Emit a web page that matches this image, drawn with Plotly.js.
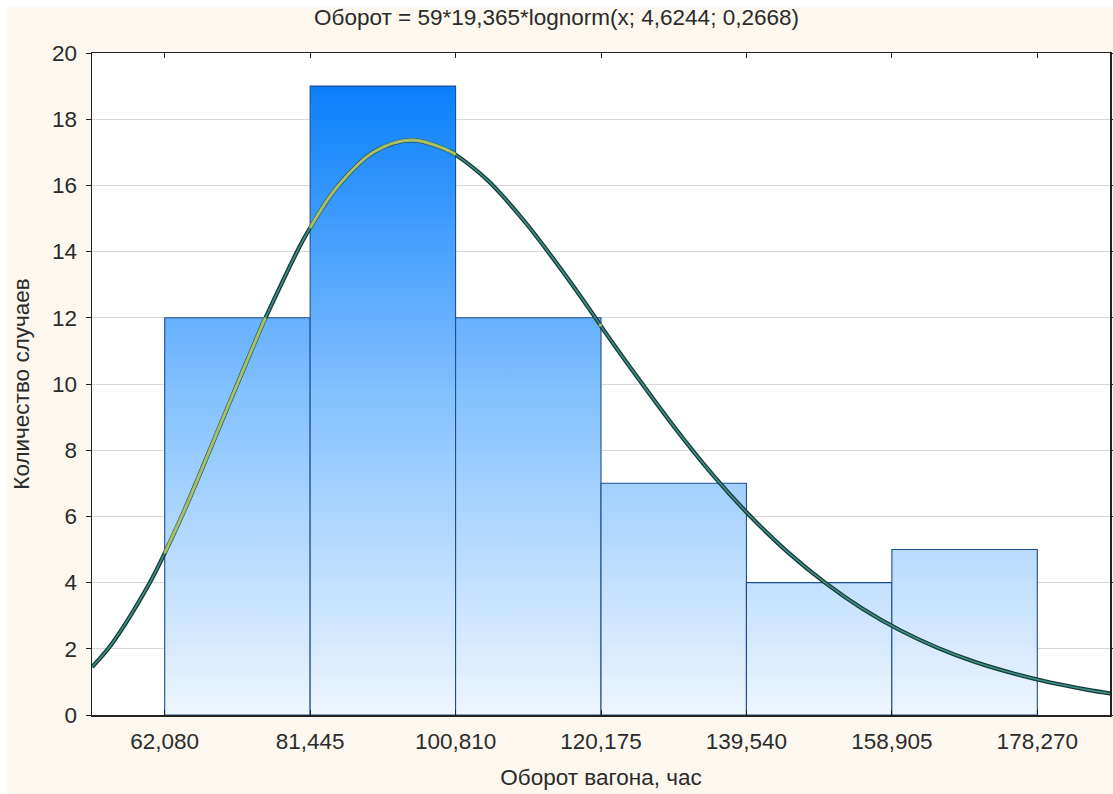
<!DOCTYPE html>
<html>
<head>
<meta charset="utf-8">
<script src="https://cdn.plot.ly/plotly-3.0.1.min.js"></script>
<style>
html,body{margin:0;padding:0;background:#ffffff;}
#bg{position:absolute;left:7px;top:7px;width:1106px;height:787px;background:#fcf8ef;}
#chart{position:absolute;left:0;top:0;width:1113px;height:794px;}
</style>
</head>
<body>
<div id="bg"></div>
<div id="chart"></div>
<script>
// Histogram bins (edges) and counts
const binEdges = [62.080, 81.445, 100.810, 120.175, 139.540, 158.905, 178.270];
const binLabels = ["62,080", "81,445", "100,810", "120,175", "139,540", "158,905", "178,270"];
const counts = [12, 19, 12, 7, 4, 5];

// Fitted lognormal curve
const curveX = [52.4, 55, 60, 62.08, 65, 70, 75, 75.5, 80, 81.445, 85, 90, 95, 100, 100.81, 105, 110, 115, 120, 120.175, 125, 130, 135, 140, 145, 150, 155, 160, 165, 170, 175, 180, 185, 188];
const curveY = [1.45, 2.14, 3.96, 4.89, 6.34, 9.05, 11.75, 12.0, 14.13, 14.72, 15.94, 17.02, 17.37, 17.04, 16.93, 16.17, 14.91, 13.42, 11.81, 11.75, 10.21, 8.68, 7.27, 6.02, 4.93, 4.00, 3.21, 2.56, 2.03, 1.60, 1.26, 0.98, 0.76, 0.65];

const yTicks = [0, 2, 4, 6, 8, 10, 12, 14, 16, 18, 20];

const titleText = "Оборот = 59*19,365*lognorm(x; 4,6244; 0,2668)";
const xTitle = "Оборот вагона, час";
const yTitle = "Количество случаев";

const FONT = "Liberation Sans, Arial, sans-serif";
const FS = 22.5;
const TXT = '#2b2b2b';
const maxCount = Math.max(...counts);
const halfBin = (binEdges[1] - binEdges[0]) / 2;

const traces = [];
for (let i = 0; i < counts.length; i++) {
  const x0 = binEdges[i], x1 = binEdges[i + 1], c = counts[i];
  traces.push({
    type: 'scatter', mode: 'lines',
    x: [x0, x0, x1, x1, x0],
    y: [0, c, c, 0, 0],
    fill: 'toself',
    fillgradient: {type: 'vertical', start: 0, stop: maxCount,
      colorscale: [[0, '#eef6ff'], [0.5, '#86c2ff'], [1, '#0a7ffb']]},
    line: {color: '#1d4f8e', width: 1.1},
    hoverinfo: 'skip', showlegend: false
  });
}

// Curve: dark outer line + teal core
traces.push({type: 'scatter', mode: 'lines', x: curveX, y: curveY,
  line: {color: '#153b39', width: 4.2, shape: 'spline'}, hoverinfo: 'skip', showlegend: false});
traces.push({type: 'scatter', mode: 'lines', x: curveX, y: curveY,
  line: {color: '#3f8f86', width: 1.6, shape: 'spline'}, hoverinfo: 'skip', showlegend: false});

// Part of curve over the dark blue bars appears yellow-green
const overY = curveY.map((v, k) => {
  const xv = curveX[k];
  for (let i = 0; i < counts.length; i++) {
    if (xv >= binEdges[i] - 1e-9 && xv <= binEdges[i + 1] + 1e-9 && v <= counts[i] + 0.05 && counts[i] >= 10) return v;
  }
  return null;
});
traces.push({type: 'scatter', mode: 'lines', x: curveX, y: overY, connectgaps: false,
  line: {color: '#86b873', width: 3.4, shape: 'spline'}, hoverinfo: 'skip', showlegend: false});
traces.push({type: 'scatter', mode: 'lines', x: curveX, y: overY, connectgaps: false,
  line: {color: '#c2bf5c', width: 1.3, shape: 'spline'}, hoverinfo: 'skip', showlegend: false});

const layout = {
  width: 1113, height: 794,
  paper_bgcolor: 'rgba(0,0,0,0)', plot_bgcolor: '#ffffff',
  margin: {l: 92, r: 3, t: 53, b: 79},
  font: {family: FONT, size: FS, color: TXT},
  separators: ', ',
  hovermode: false,
  title: {text: titleText, x: 0.5, xanchor: 'center', xref: 'container', y: 0.978, yanchor: 'middle',
    font: {family: FONT, size: FS, color: TXT}},
  xaxis: {
    range: [binEdges[0] - halfBin, binEdges[binEdges.length - 1] + halfBin],
    tickmode: 'array', tickvals: binEdges, ticktext: binLabels,
    ticks: 'inside', ticklen: 5, tickcolor: '#222', tickwidth: 1,
    showline: true, linecolor: '#222', linewidth: 1.5, mirror: 'ticks',
    showgrid: false, zeroline: false,
    ticklabelstandoff: 5,
    tickfont: {family: FONT, size: FS, color: TXT},
    title: {text: xTitle, standoff: 16, font: {family: FONT, size: FS, color: TXT}}
  },
  yaxis: {
    range: [0, 20], tickmode: 'array', tickvals: yTicks,
    ticks: 'outside', ticklen: 5, tickcolor: '#222', tickwidth: 1,
    showline: true, linecolor: '#222', linewidth: 1.5, mirror: 'ticks',
    showgrid: true, gridcolor: '#d9d9d9', gridwidth: 1, zeroline: false,
    ticklabelstandoff: 4,
    tickfont: {family: FONT, size: FS, color: TXT},
    title: {text: yTitle, standoff: 16, font: {family: FONT, size: FS, color: TXT}}
  }
};

Plotly.newPlot('chart', traces, layout, {staticPlot: true, displayModeBar: false});
</script>
</body>
</html>
